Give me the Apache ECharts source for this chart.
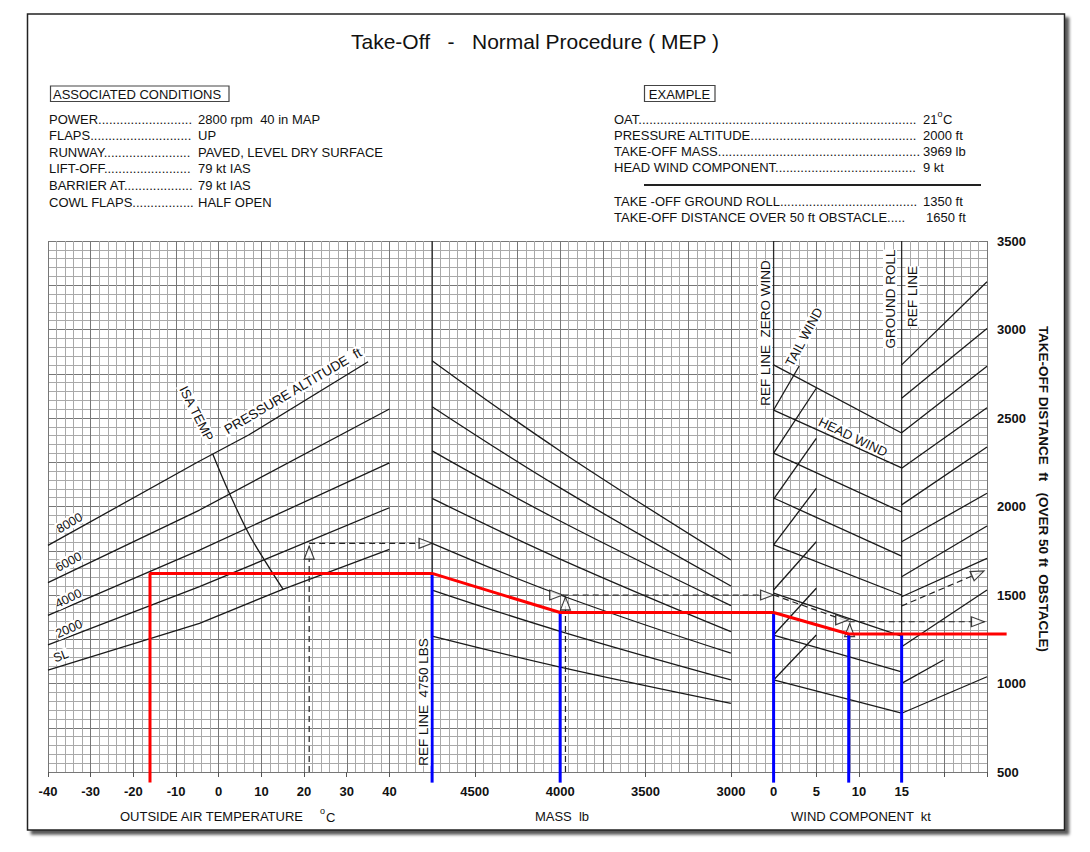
<!DOCTYPE html>
<html><head><meta charset="utf-8">
<script src="https://cdn.jsdelivr.net/npm/echarts/dist/echarts.min.js"></script>
<style>html,body{margin:0;padding:0;background:#fff;}#c{width:1090px;height:852px;}</style>
</head><body><div id="c"></div>
<script>
// ---------------- DATA ----------------
const oatTicks = [-40, -30, -20, -10, 0, 10, 20, 30, 40];
const massTicks = [4500, 4000, 3500, 3000];
const windTicks = [0, 5, 10, 15];
const distTicks = [500, 1000, 1500, 2000, 2500, 3000, 3500];

// left panel: OAT (degC) -> distance (ft) per pressure altitude
const altLabels = ['8000', '6000', '4000', '2000', 'SL'];
const pa8000 = [[-40, 1780], [-5, 2250], [7, 2404], [35, 2818]];
const pa6000 = [[-40, 1570], [-4.5, 1980], [40, 2551]];
const pa4000 = [[-40, 1385], [-4.5, 1754], [40, 2246]];
const pa2000 = [[-40, 1218], [-4.5, 1547], [40, 1993]];
const paSL = [[-40, 1076], [-4.5, 1340], [15, 1532], [40, 1758]];
const isaTemp = [[-1.4, 2297], [2.5, 2075], [7.2, 1839], [11.2, 1679], [15.1, 1532]];

// middle panel: mass guide lines, distance at each mass
const massPoints = [4750, 4000, 3000];
const massGuide1 = [2824, 2314, 1698];
const massGuide2 = [2564, 2105, 1551];
const massGuide3 = [2314, 1918, 1440];
const massGuide4 = [2046, 1703, 1293];
const massGuide5 = [1792, 1500, 1171];
const massGuide6 = [1528, 1295, 1020];
const massGuide7 = [1268, 1093, 888];

// wind panel
const headWindKt = [0, 15];
const headWind1 = [2800, 2415];
const headWind2 = [2545, 2218];
const headWind3 = [2302, 1969];
const headWind4 = [2048, 1720];
const headWind5 = [1783, 1500];
const headWind6 = [1511, 1268];
const headWind7 = [1274, 1065];
const headWind8 = [1020, 833];
const tailWind1 = [[0, 2545], [3, 2794]];
const tailWind2 = [[0, 2302], [5, 2668]];
const tailWind3 = [[0, 2042], [5, 2385]];
const tailWind4 = [[0, 1783], [5, 2103]];
const tailWind5 = [[0, 1528], [5, 1801]];
const tailWind6 = [[0, 1274], [5, 1538]];
const tailWind7 = [[0, 1020], [5, 1274]];
const obstacle1 = [[15, 2800], [25, 3270]];
const obstacle2 = [[15, 2611], [25, 3006]];
const obstacle3 = [[15, 2417], [25, 2792]];
const obstacle4 = [[15, 2216], [25, 2558]];
const obstacle5 = [[15, 2009], [25, 2336]];
const obstacle6 = [[15, 1801], [25, 2075]];
const obstacle7 = [[15, 1603], [25, 1890]];
const obstacle8 = [[15, 1490], [25, 1707]];
const obstacle9 = [[15, 1208], [25, 1528]];
const obstacle10 = [[15, 1001], [19.9, 1133]];
const obstacle11 = [[15, 832], [25, 1038]];

// worked example (dashed) : 21 C, 2000 ft, 3969 lb, 9 kt
const exOat = [[21.2, 500], [21.2, 1776]];
const exOatAcross = [[21.2, 1792], [50, 1792]];
const exMassUp = [[3969, 500], [3969, 1489]];
const exMassAcross = [[3985, 1500], [2750, 1500]];
const exWindDown = [[0, 1500], [8.8, 1349]];
const exWindUp = [[8.8, 500], [8.8, 1349]];
const exGroundRoll = [[8.8, 1349], [24.7, 1349]];
const exObstacle = [[15, 1438], [24.65, 1636]];

// red / blue overlay path
const redOat = [[-16.1, 440], [-16.1, 1622], [50, 1622]];
const redMass = [[4750, 1622], [4000, 1401], [2750, 1401]];
const redWind = [[0, 1401], [8.8, 1280], [27.3, 1280]];
const blueOat = [[50, 440], [50, 1622]];
const blueMass = [[4000, 440], [4000, 1401]];
const blueWind0 = [[0, 440], [0, 1401]];
const blueWind9 = [[8.8, 440], [8.8, 1280]];
const blueWind15 = [[15, 440], [15, 1280]];

// ---------------- CHART ----------------
const FONT = '"Liberation Sans", Arial, Helvetica, sans-serif';
const el = document.getElementById('c');
const chart = echarts.init(el, null, { renderer: 'svg', width: 1090, height: 852 });

// axis indices: 1 = OAT, 4 = mass (drawing), 5 = wind (drawing)
function ln(i, data, o) {
  o = o || {};
  return {
    type: 'line', xAxisIndex: i, yAxisIndex: i, data: data, symbol: 'none', silent: true,
    clip: o.clip === undefined ? true : o.clip, smooth: o.smooth || false,
    lineStyle: { color: o.color || '#1a1a1a', width: o.width || 1.3, type: o.type || 'solid' },
    z: o.z || 3
  };
}
function zipMass(vals) { return massPoints.map((m, k) => [m, vals[k]]); }
function zipWind(vals) { return headWindKt.map((w, k) => [w, vals[k]]); }
const dashed = { type: [6, 4], width: 1.2, color: '#222', clip: false, z: 4 };

function tri(value, rot, off) {
  return { value: value, symbolRotate: rot, symbolOffset: off };
}
function arrows(i, data) {
  return {
    type: 'scatter', xAxisIndex: i, yAxisIndex: i, data: data, symbol: 'triangle', symbolSize: [10, 13],
    silent: true, clip: false, itemStyle: { color: '#fff', borderColor: '#111', borderWidth: 1.2 }, z: 6
  };
}

function txt(text, x, y, o) {
  o = o || {};
  return {
    type: 'text', x: x, y: y, rotation: o.rot || 0, z: o.z || 50,
    style: {
      text: text, fill: o.fill || '#111',
      font: (o.weight || 'normal') + ' ' + (o.size || 13) + 'px ' + FONT,
      textAlign: o.align || 'left', textVerticalAlign: o.va || 'middle',
      backgroundColor: o.bg || null, padding: o.pad || 0
    }
  };
}

const axisLabelStyle = { fontFamily: FONT, fontSize: 13, fontWeight: 'bold', color: '#111', margin: 13 };
function panelX(i, min, max, interval, ticks, extra) {
  return Object.assign({
    gridIndex: i, type: 'value', min: min, max: max, interval: interval,
    axisLine: { show: false }, splitLine: { show: false },
    axisTick: { show: true, length: 5, lineStyle: { color: '#555' } },
    axisLabel: Object.assign({}, axisLabelStyle, {
      formatter: v => ticks.indexOf(v) >= 0 ? String(v) : ''
    })
  }, extra || {});
}
function hiddenX(i, min, max, extra) {
  return Object.assign({ gridIndex: i, type: 'value', min: min, max: max, show: false }, extra || {});
}
function hiddenY(i) {
  return { gridIndex: i, type: 'value', min: 500, max: 3500, show: false };
}

const conditions = [
  ['POWER' + '.'.repeat(26), '2800 rpm  40 in MAP'],
  ['FLAPS' + '.'.repeat(28), 'UP'],
  ['RUNWAY' + '.'.repeat(24), 'PAVED, LEVEL DRY SURFACE'],
  ['LIFT-OFF' + '.'.repeat(24), '79 kt IAS'],
  ['BARRIER AT' + '.'.repeat(19), '79 kt IAS'],
  ['COWL FLAPS' + '.'.repeat(17), 'HALF OPEN']
];
const condY = [119, 135.6, 152.2, 168.8, 185.4, 202];
const example = [
  ['OAT' + '.'.repeat(77), '21'],
  ['PRESSURE ALTITUDE' + '.'.repeat(46), '2000 ft'],
  ['TAKE-OFF MASS' + '.'.repeat(56), '3969 lb'],
  ['HEAD WIND COMPONENT' + '.'.repeat(39), '9 kt']
];
const exY = [119, 135.3, 151.5, 167.8];
const results = [
  ['TAKE -OFF GROUND ROLL' + '.'.repeat(38), '1350 ft', 923],
  ['TAKE-OFF DISTANCE OVER 50 ft OBSTACLE.....', '1650 ft', 926]
];
const resY = [201.7, 217.5];

const graphics = [
  { type: 'rect', z: -20, shape: { x: 27.5, y: 14, width: 1037, height: 816 },
    style: { fill: '#fff', stroke: '#222', lineWidth: 1.5, shadowBlur: 3, shadowOffsetX: 4, shadowOffsetY: 4, shadowColor: 'rgba(0,0,0,0.65)' } },
  txt('Take-Off   -   Normal Procedure ( MEP )', 535, 41, { size: 21, align: 'center' }),
  { type: 'rect', z: 40, shape: { x: 50.5, y: 86, width: 178.5, height: 15.5 }, style: { fill: '#fff', stroke: '#444', lineWidth: 1.2 } },
  txt('ASSOCIATED CONDITIONS', 53, 94, {}),
  { type: 'rect', z: 40, shape: { x: 644.5, y: 85.5, width: 70.5, height: 16 }, style: { fill: '#fff', stroke: '#444', lineWidth: 1.2 } },
  txt('EXAMPLE', 679.5, 94, { align: 'center' }),
  { type: 'line', z: 40, shape: { x1: 644, y1: 185, x2: 981, y2: 185 }, style: { stroke: '#222', lineWidth: 2 } },
  txt('o', 937.5, 114, { size: 9 }),
  txt('C', 943, 119.5, {}),
  // axis names
  txt('OUTSIDE AIR TEMPERATURE', 120, 816.5, {}),
  txt('o', 320, 811, { size: 9 }),
  txt('C', 326, 817, {}),
  txt('MASS  lb', 562, 816.5, { align: 'center' }),
  txt('WIND COMPONENT  kt', 861, 816.5, { align: 'center' }),
  txt('TAKE-OFF DISTANCE  ft   (OVER 50 ft  OBSTACLE)', 1043, 489, { rot: -Math.PI / 2, align: 'center', weight: 'bold', size: 13.5 }),
  // in-chart labels
  txt('ISA TEMP', 196.5, 413.5, { rot: -1.1, align: 'center', bg: '#fff', pad: [0, 2] }),
  txt('PRESSURE ALTITUDE  ft', 293, 391, { rot: 0.53, align: 'center', bg: '#fff', pad: [0, 2], size: 13.5 }),
  txt(altLabels[0], 69.5, 523, { rot: 0.52, align: 'center', bg: '#fff', size: 12.5 }),
  txt(altLabels[1], 68.5, 562, { rot: 0.49, align: 'center', bg: '#fff', size: 12.5 }),
  txt(altLabels[2], 68.5, 598.5, { rot: 0.46, align: 'center', bg: '#fff', size: 12.5 }),
  txt(altLabels[3], 69, 629, { rot: 0.42, align: 'center', bg: '#fff', size: 12.5 }),
  txt(altLabels[4], 61, 656, { rot: 0.36, align: 'center', bg: '#fff', size: 12.5 }),
  txt('REF LINE  4750 LBS', 423.5, 702, { rot: Math.PI / 2, align: 'center', bg: '#fff', size: 13.5 }),
  txt('REF LINE  ZERO WIND', 765, 333, { rot: Math.PI / 2, align: 'center', bg: '#fff', size: 13.5 }),
  txt('TAIL WIND', 804, 337, { rot: 1.08, align: 'center', bg: '#fff', size: 13 }),
  txt('HEAD WIND', 853, 437, { rot: -0.445, align: 'center', bg: '#fff', size: 13 }),
  txt('GROUND ROLL', 890, 299, { rot: Math.PI / 2, align: 'center', bg: '#fff', size: 13.5 }),
  txt('REF LINE', 912.5, 296.5, { rot: Math.PI / 2, align: 'center', bg: '#fff', size: 13.5 })
];
conditions.forEach((c, k) => {
  graphics.push(txt(c[0], 49, condY[k], {}));
  graphics.push(txt(c[1], 198, condY[k], {}));
});
example.forEach((c, k) => {
  graphics.push(txt(c[0], 614, exY[k], {}));
  graphics.push(txt(c[1], 923, exY[k], {}));
});
results.forEach((c, k) => {
  graphics.push(txt(c[0], 614, resY[k], {}));
  graphics.push(txt(c[1], c[2], resY[k], {}));
});

const PAPER_MAJOR = '#777777';
const PAPER_MINOR = '#a9a9a9';

const option = {
  animation: false,
  backgroundColor: '#fff',
  grid: [
    { left: 48, top: 241, width: 939, height: 531 },      // 0 paper
    { left: 48, top: 241, width: 384.1, height: 531 },    // 1 OAT
    { left: 432.1, top: 241, width: 298.8, height: 531 }, // 2 mass labels
    { left: 773.6, top: 241, width: 213.4, height: 531 }, // 3 wind labels + distance axis
    { left: 432.1, top: 241, width: 341.5, height: 531 }, // 4 mass drawing (incl. gap)
    { left: 773.6, top: 241, width: 239.0, height: 531 }  // 5 wind drawing (incl. margin)
  ],
  xAxis: [
    { gridIndex: 0, type: 'value', min: 0, max: 22, interval: 1,
      axisLine: { show: false }, axisTick: { show: false }, axisLabel: { show: false },
      splitLine: { show: true, lineStyle: { color: PAPER_MAJOR, width: 1 } },
      minorTick: { show: false, splitNumber: 5 },
      minorSplitLine: { show: true, lineStyle: { color: PAPER_MINOR, width: 1 } } },
    panelX(1, -40, 50, 10, oatTicks),
    panelX(2, 3000, 4750, 500, massTicks, { inverse: true }),
    panelX(3, 0, 25, 5, windTicks),
    hiddenX(4, 2750, 4750, { inverse: true }),
    hiddenX(5, 0, 28)
  ],
  yAxis: [
    { gridIndex: 0, type: 'value', min: 500, max: 3500, interval: 250,
      axisLine: { show: false }, axisTick: { show: false }, axisLabel: { show: false },
      splitLine: { show: true, lineStyle: { color: PAPER_MAJOR, width: 1 } },
      minorTick: { show: false, splitNumber: 5 },
      minorSplitLine: { show: true, lineStyle: { color: PAPER_MINOR, width: 1 } } },
    hiddenY(1), hiddenY(2),
    { gridIndex: 3, type: 'value', min: 500, max: 3500, interval: 500, position: 'right',
      axisLine: { show: false }, splitLine: { show: false },
      axisTick: { show: true, length: 6, lineStyle: { color: '#555' } },
      minorTick: { show: true, splitNumber: 2, length: 6, lineStyle: { color: '#555' } },
      axisLabel: Object.assign({}, axisLabelStyle, { margin: 10, formatter: v => distTicks.indexOf(v) >= 0 ? String(v) : '' }) },
    hiddenY(4), hiddenY(5)
  ],
  graphic: { elements: graphics },
  series: [
    // reference lines
    ln(4, [[4750, 500], [4750, 3500]], { color: '#2a2a2a', width: 1.3 }),
    ln(5, [[0, 500], [0, 3500]], { color: '#2a2a2a', width: 1.3 }),
    ln(5, [[15, 500], [15, 3500]], { color: '#2a2a2a', width: 1.3 }),
    // left
    ln(1, pa8000), ln(1, pa6000), ln(1, pa4000), ln(1, pa2000), ln(1, paSL),
    ln(1, isaTemp, { smooth: 0.4 }),
    // middle
    ln(4, zipMass(massGuide1), { smooth: 0.4 }), ln(4, zipMass(massGuide2), { smooth: 0.4 }),
    ln(4, zipMass(massGuide3), { smooth: 0.4 }), ln(4, zipMass(massGuide4), { smooth: 0.4 }),
    ln(4, zipMass(massGuide5), { smooth: 0.4 }), ln(4, zipMass(massGuide6), { smooth: 0.4 }),
    ln(4, zipMass(massGuide7), { smooth: 0.4 }),
    // wind
    ln(5, zipWind(headWind1)), ln(5, zipWind(headWind2)), ln(5, zipWind(headWind3)), ln(5, zipWind(headWind4)),
    ln(5, zipWind(headWind5)), ln(5, zipWind(headWind6)), ln(5, zipWind(headWind7)), ln(5, zipWind(headWind8)),
    ln(5, tailWind1), ln(5, tailWind2), ln(5, tailWind3), ln(5, tailWind4), ln(5, tailWind5), ln(5, tailWind6), ln(5, tailWind7),
    ln(5, obstacle1), ln(5, obstacle2), ln(5, obstacle3), ln(5, obstacle4), ln(5, obstacle5), ln(5, obstacle6),
    ln(5, obstacle7), ln(5, obstacle8), ln(5, obstacle9), ln(5, obstacle10), ln(5, obstacle11),
    // example dashed
    ln(1, exOat, dashed), ln(1, exOatAcross, dashed),
    ln(4, exMassUp, dashed), ln(4, exMassAcross, dashed),
    ln(5, exWindDown, dashed), ln(5, exWindUp, dashed), ln(5, exGroundRoll, dashed), ln(5, exObstacle, dashed),
    arrows(1, [tri([21.2, 1776], 0, [0, 6.5]), tri([50, 1792], -90, [-6.5, 0])]),
    arrows(4, [tri([3985, 1500], -90, [-6.5, 0]), tri([3969, 1489], 0, [0, 6.5])]),
    arrows(5, [tri([0, 1500], -90, [-6.5, 0]), tri([8.8, 1360], -90, [-6.5, 0]), tri([8.9, 1338], 0, [0, 6.5]),
               tri([24.7, 1349], -90, [-6.5, 0]), tri([24.65, 1636], -66, [-5.9, 2.6])]),
    // blue / red overlay
    ln(1, blueOat, { color: '#0000ff', width: 3, clip: false, z: 8 }),
    ln(4, blueMass, { color: '#0000ff', width: 3, clip: false, z: 8 }),
    ln(5, blueWind0, { color: '#0000ff', width: 3, clip: false, z: 8 }),
    ln(5, blueWind9, { color: '#0000ff', width: 3, clip: false, z: 8 }),
    ln(5, blueWind15, { color: '#0000ff', width: 3, clip: false, z: 8 }),
    ln(1, redOat, { color: '#ff0000', width: 3, clip: false, z: 9 }),
    ln(4, redMass, { color: '#ff0000', width: 3, clip: false, z: 9 }),
    ln(5, redWind, { color: '#ff0000', width: 3, clip: false, z: 9 })
  ]
};
chart.setOption(option);
</script>
</body></html>
